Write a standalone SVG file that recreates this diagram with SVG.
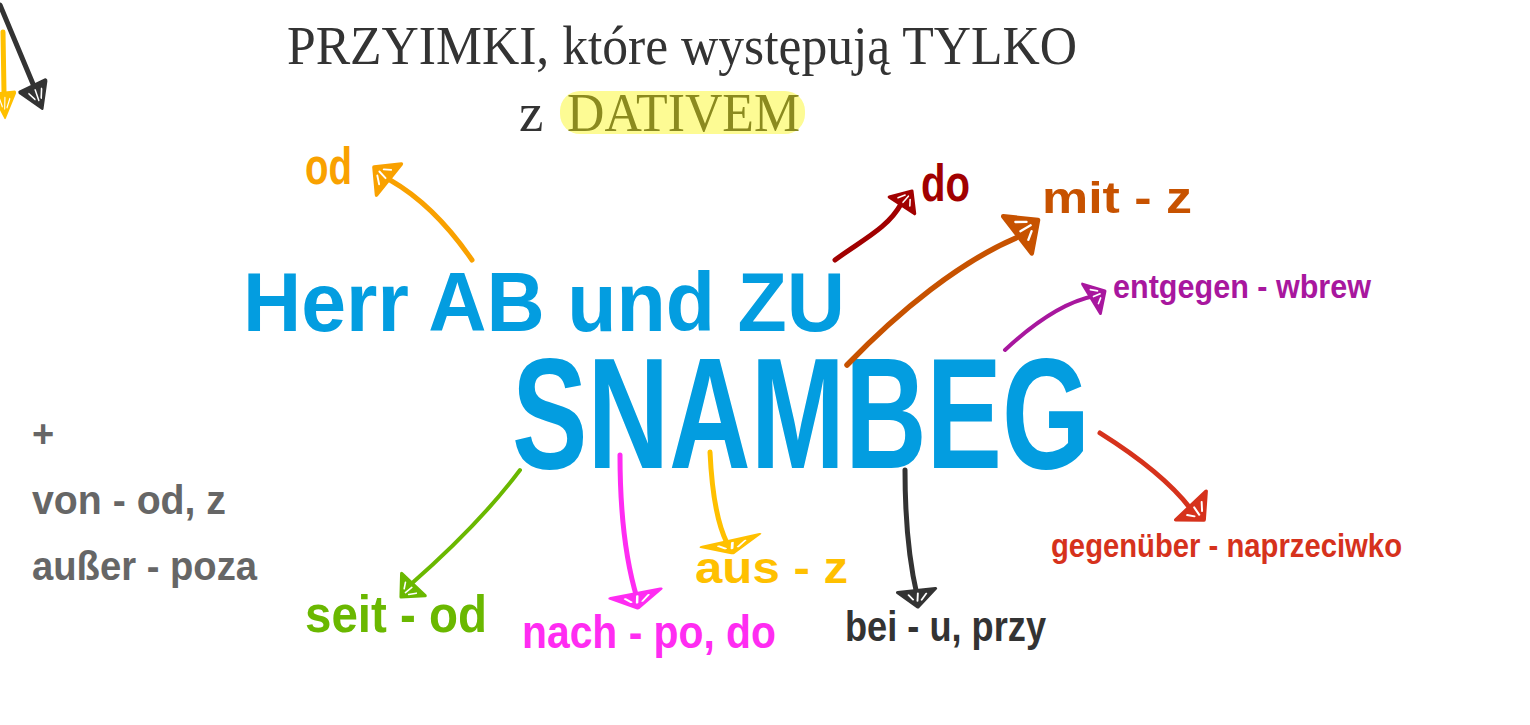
<svg xmlns="http://www.w3.org/2000/svg" xmlns:xlink="http://www.w3.org/1999/xlink" width="1530" height="725" viewBox="0 0 1530 725">
<style>
.hand{font-family:"Liberation Sans Narrow","Liberation Sans","DejaVu Sans Condensed",sans-serif;font-weight:bold;}
.serif{font-family:"Liberation Serif","DejaVu Serif",serif;}
.ln{fill:none;stroke-linecap:round;stroke-linejoin:round;}
</style>
<defs>
<g id="ah">
<path d="M0,0 L-20,-18 L-19,18 Z" fill="currentColor" stroke="currentColor" stroke-width="3.5" stroke-linejoin="round"/>
<path d="M-15,-9 L-8,-4 M-16,-1 L-7,0 M-15,8 L-9,4" stroke="#ffffff" stroke-width="1.8" stroke-linecap="round" fill="none"/>
</g>
</defs>
<rect width="1530" height="725" fill="#ffffff"/>

<g id="title">
<text class="serif" x="287" y="64" font-size="55" fill="#333333" textLength="790" lengthAdjust="spacingAndGlyphs">PRZYIMKI, które występują TYLKO</text>
<rect x="560" y="91" width="245" height="43" rx="20" fill="#fdfb94"/>
<text class="serif" x="519" y="131" font-size="55" fill="#333333">z</text>
<text class="serif" x="567" y="131" font-size="55" fill="#8b8a1f" textLength="233" lengthAdjust="spacingAndGlyphs">DATIVEM</text>
</g>

<g id="center">
<text class="hand" x="243" y="331" font-size="84" fill="#039de0" textLength="602" lengthAdjust="spacingAndGlyphs">Herr  AB und ZU</text>
<text class="hand" x="512" y="468" font-size="158" fill="#039de0" textLength="578" lengthAdjust="spacingAndGlyphs">SNAMBEG</text>
</g>

<g id="connectors">
<path class="ln" d="M0,5 L33,84" stroke="#333333" stroke-width="5"/>
<use xlink:href="#ah" href="#ah" color="#333333" transform="translate(42,108) rotate(67) scale(1.2,0.8)"/>
<path class="ln" d="M3,32 L4,92" stroke="#ffc000" stroke-width="5"/>
<use xlink:href="#ah" href="#ah" color="#ffc000" transform="translate(5,117) rotate(88) scale(1.2,0.6)"/>

<path class="ln" d="M472,260 C450,228 425,200 390,180" stroke="#f9a100" stroke-width="5"/>
<use xlink:href="#ah" href="#ah" color="#f9a100" transform="translate(374,167) rotate(-140) scale(1,1.1)"/>

<path class="ln" d="M835,260 C862,240 888,228 901,204" stroke="#a10000" stroke-width="5"/>
<use xlink:href="#ah" href="#ah" color="#a10000" transform="translate(912,191) rotate(-55) scale(0.9,0.85)"/>

<path class="ln" d="M847,365 C900,310 960,262 1016,238" stroke="#c75200" stroke-width="5.5"/>
<use xlink:href="#ah" href="#ah" color="#c75200" transform="translate(1038,220) rotate(-36) scale(1.3,1.3)"/>

<path class="ln" d="M1005,350 C1035,322 1065,302 1094,296" stroke="#a8179e" stroke-width="4"/>
<use xlink:href="#ah" href="#ah" color="#a8179e" transform="translate(1105,291) rotate(-30) scale(0.8,0.95)"/>

<path class="ln" d="M1100,433 C1135,455 1170,482 1190,508" stroke="#d6321c" stroke-width="5"/>
<use xlink:href="#ah" href="#ah" color="#d6321c" transform="translate(1204,520) rotate(48) scale(1,1.15)"/>

<path class="ln" d="M905,470 C905,525 910,565 917,595" stroke="#333333" stroke-width="5"/>
<use xlink:href="#ah" href="#ah" color="#333333" transform="translate(918,607) rotate(85) scale(0.85,1.05)"/>

<path class="ln" d="M710,452 C712,495 718,525 727,543" stroke="#ffc000" stroke-width="5"/>
<use xlink:href="#ah" href="#ah" color="#ffc000" transform="translate(733,553) rotate(78) scale(0.65,1.6)"/>

<path class="ln" d="M620,455 C620,520 627,565 637,598" stroke="#ff2cf2" stroke-width="5"/>
<use xlink:href="#ah" href="#ah" color="#ff2cf2" transform="translate(638,608) rotate(80) scale(0.75,1.4)"/>

<path class="ln" d="M520,470 C490,510 450,550 410,585" stroke="#6ab800" stroke-width="4"/>
<use xlink:href="#ah" href="#ah" color="#6ab800" transform="translate(401,597) rotate(135) scale(0.9,0.9)"/>
</g>

<g id="n-od"><text class="hand" x="305" y="184" font-size="52" fill="#f9a100" textLength="47" lengthAdjust="spacingAndGlyphs">od</text></g>
<g id="n-do"><text class="hand" x="921" y="201" font-size="52" fill="#a10000" textLength="49" lengthAdjust="spacingAndGlyphs">do</text></g>
<g id="n-mit"><text class="hand" x="1042" y="213" font-size="45" fill="#c75200" textLength="150" lengthAdjust="spacingAndGlyphs">mit  - z</text></g>
<g id="n-entgegen"><text class="hand" x="1113" y="298" font-size="34" fill="#a8179e" textLength="258" lengthAdjust="spacingAndGlyphs">entgegen - wbrew</text></g>
<g id="n-gegenueber"><text class="hand" x="1051" y="557" font-size="33" fill="#d6321c" textLength="351" lengthAdjust="spacingAndGlyphs">gegenüber - naprzeciwko</text></g>
<g id="n-bei"><text class="hand" x="845" y="641" font-size="42" fill="#333333" textLength="201" lengthAdjust="spacingAndGlyphs">bei - u, przy</text></g>
<g id="n-aus"><text class="hand" x="695" y="583" font-size="44" fill="#ffc000" textLength="153" lengthAdjust="spacingAndGlyphs">aus  - z</text></g>
<g id="n-nach"><text class="hand" x="522" y="648" font-size="46" fill="#ff2cf2" textLength="254" lengthAdjust="spacingAndGlyphs">nach - po, do</text></g>
<g id="n-seit"><text class="hand" x="305" y="632" font-size="52" fill="#6ab800" textLength="182" lengthAdjust="spacingAndGlyphs">seit - od</text></g>
<g id="n-extra">
<text class="hand" x="32" y="447" font-size="38" fill="#666666">+</text>
<text class="hand" x="32" y="514" font-size="40" fill="#666666" textLength="194" lengthAdjust="spacingAndGlyphs">von  - od, z</text>
<text class="hand" x="32" y="580" font-size="40" fill="#666666" textLength="225" lengthAdjust="spacingAndGlyphs">außer - poza</text>
</g>
</svg>
